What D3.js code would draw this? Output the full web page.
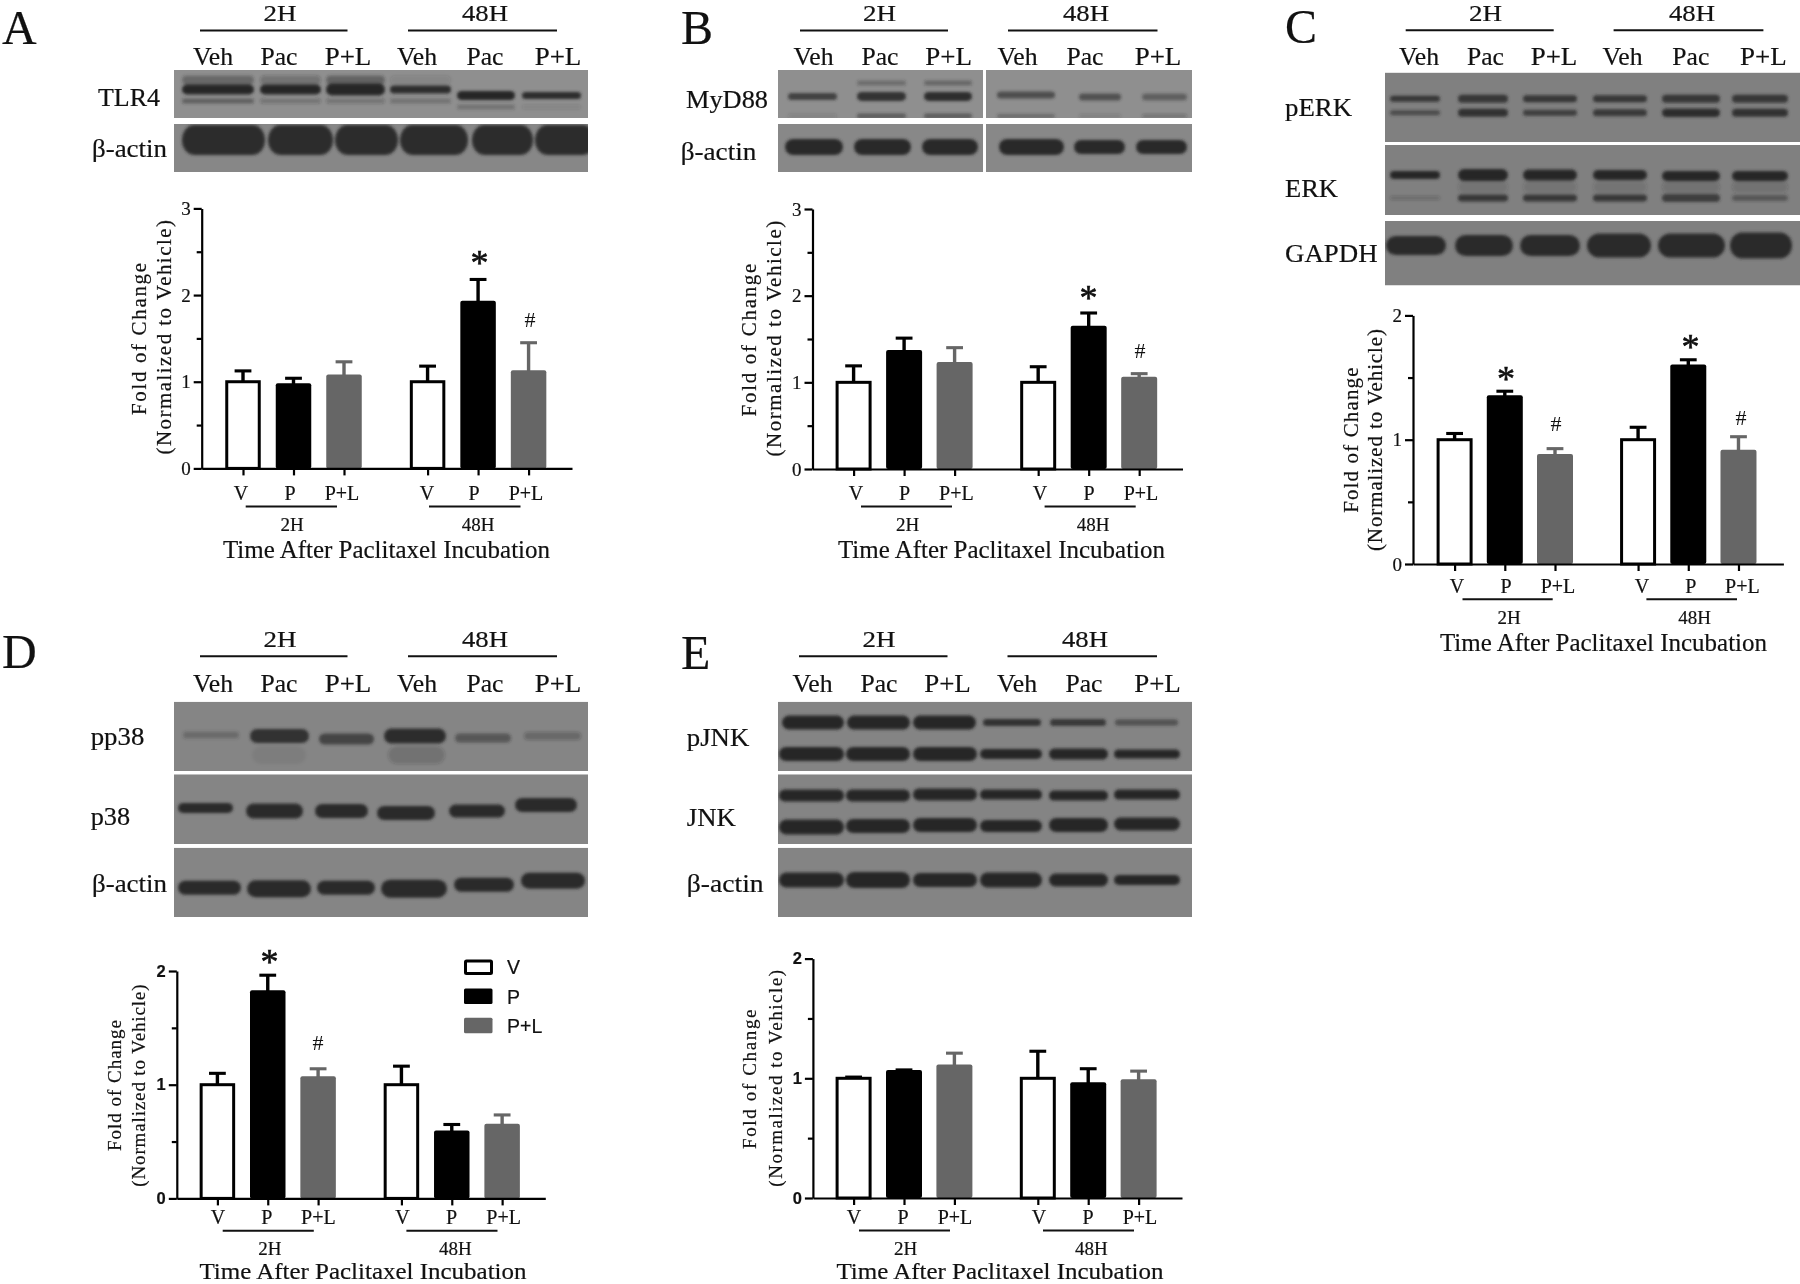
<!DOCTYPE html>
<html><head><meta charset="utf-8">
<script src="https://cdn.jsdelivr.net/npm/d3@7"></script>
<style>html,body{margin:0;background:#fff}svg{display:block;filter:blur(.4px)}text{font-family:"Liberation Serif",serif;fill:#111;stroke:#111;stroke-width:.2px}</style>
</head><body><svg id="c" width="1800" height="1284"></svg>
<script>
// ---------- data ----------
const categories = ["V","P","P+L"];
const timepoints = ["2H","48H"];
const laneLabels = ["Veh","Pac","P+L"];
const valuesA = [1,0.97,1.07,1,1.92,1.12];
const errTopA = [1.125,1.04,1.23,1.18,2.18,1.45];
const valuesB = [1,1.36,1.22,1,1.64,1.05];
const errTopB = [1.19,1.51,1.40,1.18,1.80,1.10];
const valuesC = [1,1.347,0.876,1,1.595,0.91];
const errTopC = [1.05,1.39,0.928,1.10,1.643,1.024];
const valuesD = [1,1.82,1.064,1,0.587,0.646];
const errTopD = [1.10,1.963,1.14,1.163,0.65,0.734];
const valuesE = [1,1.06,1.105,1,0.958,0.983];
const errTopE = [1.01,1.07,1.21,1.226,1.08,1.06];
const tickLabels3 = [0,1,2,3];
const tickLabels2 = [0,1,2];
const minor3 = [0.5,1.5,2.5];
const minor2 = [0.5,1.5];
const slots = [0,1,2,3.655,4.655,5.655];

// ---------- layout ----------
const svg = d3.select("#c");
svg.append("defs").append("filter").attr("id","bl").attr("x","-10%").attr("y","-60%").attr("width","120%").attr("height","220%")
  .append("feGaussianBlur").attr("stdDeviation",1.5);
const SERIF='"Liberation Serif",serif', SANS='"Liberation Sans",sans-serif';
function T(x,y,s,o={}){
  const t=svg.append("text").attr("x",x).attr("y",y).text(s)
    .attr("font-size",o.size||25).attr("text-anchor",o.anchor||"middle");
  if(o.font) t.style("font-family",o.font);
  if(o.bold) t.attr("font-weight","bold");
  if(o.len) t.attr("textLength",o.len).attr("lengthAdjust",o.adj||"spacingAndGlyphs");
  if(o.rot) t.attr("transform",`rotate(-90 ${x} ${y})`);
  return t;
}
function H(x0,x1,y,w=2){svg.append("line").attr("x1",x0).attr("x2",x1).attr("y1",y).attr("y2",y).attr("stroke","#111").attr("stroke-width",w);}
let clipId=0;
function row(x0,x1,y0,y1,bg,bands){
  const id="r"+(clipId++);
  svg.select("defs").append("clipPath").attr("id",id).append("rect").attr("x",x0).attr("y",y0).attr("width",x1-x0).attr("height",y1-y0);
  const g=svg.append("g").attr("clip-path",`url(#${id})`);
  g.append("rect").attr("x",x0).attr("y",y0).attr("width",x1-x0).attr("height",y1-y0).attr("fill",bg);
  const gb=g.append("g").attr("filter","url(#bl)");
  bands.forEach(b=>{
    b.lanes.forEach((l,i)=>{
      const h=Array.isArray(b.h)?b.h[i]:b.h, a=Array.isArray(b.a)?b.a[i]:b.a, dy=b.dy?b.dy[i]:0;
      if(!a) return;
      gb.append("rect").attr("x",l[0]).attr("width",l[1]-l[0]).attr("y",b.y+dy-h/2).attr("height",h)
        .attr("rx",Math.min(h/2,12)).attr("ry",h/2).attr("fill","#282828").attr("opacity",a);
    });
  });
}
function header(L){
  timepoints.forEach((t,i)=>{ T(L.hc[i],L.hy,t,{size:23,len:i?46:33}); H(L.hl[i][0],L.hl[i][1],L.hly); });
  L.lc.forEach((x,i)=>T(x,L.ly,laneLabels[i%3],{size:26,len:[40,37,46.7][i%3]}));
}
function chart(L,vals,tops,ticks,minor){
  const step=L.step, first=L.first;
  const x=d3.scaleLinear().domain([(L.ax-first)/step,(L.xe-first)/step]).range([L.ax,L.xe]);
  const y=d3.scaleLinear().domain([0,ticks[ticks.length-1]]).range([L.y0,L.yt]);
  const g=svg.append("g");
  const err=g.append("g");
  slots.forEach((s,i)=>{
    const c=i%3==2?"#666":"#000", cx=x(s);
    err.append("line").attr("x1",cx).attr("x2",cx).attr("y1",y(vals[i])).attr("y2",y(tops[i])).attr("stroke",c).attr("stroke-width",3.4);
    err.append("line").attr("x1",cx-8.4).attr("x2",cx+8.4).attr("y1",y(tops[i])).attr("y2",y(tops[i])).attr("stroke",c).attr("stroke-width",3.1);
  });
  slots.forEach((s,i)=>{
    const k=i%3, cx=x(s), w=L.bw;
    if(k==0) g.append("rect").attr("x",cx-w/2+1.5).attr("width",w-3).attr("y",y(vals[i])).attr("height",y(0)-y(vals[i])).attr("fill","#fff").attr("stroke","#000").attr("stroke-width",3);
    else g.append("rect").attr("x",cx-w/2).attr("width",w).attr("y",y(vals[i])-1.2).attr("height",y(0)-y(vals[i])+1.2).attr("rx",2).attr("fill",k==1?"#000":"#666");
  });
  const st=s=>s.selectAll("line,path").attr("stroke","#000").attr("stroke-width",2.2);
  svg.append("g").attr("transform",`translate(0,${L.y0})`).call(d3.axisBottom(x).tickValues(slots).tickFormat("").tickSize(7).tickSizeOuter(0)).call(st);
  const axL=svg.append("g").attr("transform",`translate(${L.ax},0)`)
    .call(d3.axisLeft(y).tickValues(ticks).tickFormat(d3.format("d")).tickSize(8).tickSizeOuter(0).tickPadding(3)).call(st);
  axL.selectAll("text").attr("font-size",L.bold?16.5:19).style("fill","#111");
  if(L.bold) axL.selectAll("text").style("font-family",SANS).attr("font-weight","bold");
  else axL.selectAll("text").style("font-family",SERIF);
  svg.append("g").attr("transform",`translate(${L.ax},0)`).call(d3.axisLeft(y).tickValues(minor).tickFormat("").tickSize(5).tickSizeOuter(0)).call(st).select("path").remove();
  L.cat.forEach((cx,i)=>T(cx,L.cy,categories[i%3],{size:20}));
  L.under.forEach((u,i)=>{ H(u[0],u[1],L.cy+6.5); T(L.tc[i],L.cy+31,timepoints[i],{size:19}); });
  T(L.titleX,L.titleY,"Time After Paclitaxel Incubation",{size:L.ts||24.8,len:327});
  T(L.f[0],(L.f[1]+L.f[2])/2,"Fold of Change",{size:L.fs||21,rot:true,len:L.f[2]-L.f[1],adj:"spacing"});
  T(L.n[0],(L.n[1]+L.n[2])/2,"(Normalized to Vehicle)",{size:L.fs||21,rot:true,len:L.n[2]-L.n[1],adj:"spacing"});
  (L.stars||[]).forEach(s=>T(s[0],s[1]+17.5,"*",{size:36}).style("stroke-width","0.6px"));
  (L.hash||[]).forEach(s=>T(s[0],s[1]+7.5,"#",{size:22}).style("stroke-width","0"));
}
const letter=(x,y,s)=>T(x,y,s,{size:48,anchor:"start"});

// ---------- Panel A ----------
letter(2,43.5,"A");
header({hc:[280,485],hy:20.7,hl:[[200,347.5],[408,557]],hly:30.5,lc:[213,279,348,417,485,558],ly:65});
T(160,105.5,"TLR4",{anchor:"end",len:62}); T(167,157,"β-actin",{anchor:"end",len:75});
const lanesA1=[[182,254],[260,321],[326,385],[390,451],[457,515],[522,581]];
row(174,588,70,118,"#8f8f8f",[
 {y:80,h:9,a:[.38,.25,.42,.1,0,0],lanes:lanesA1},
 {y:89.5,h:[10,10,12,8,9,7],a:[1,1,1,.95,1,.95],dy:[0,0,0,0,6,6],lanes:lanesA1},
 {y:101,h:5,a:[.45,.25,.25,.3,.3,.1],dy:[0,0,0,0,6,6],lanes:lanesA1}]);
row(174,588,124,172,"#878787",[{y:140,h:30,a:.95,lanes:[[182,265],[268,333],[335,398],[400,468],[472,533],[535,595]]}]);
chart({first:243,step:50.5,ax:201.7,xe:572,y0:468.4,yt:208.4,bw:35.5,
 cat:[241,290,342,427,474,526],cy:500,under:[[245.7,337],[429,520.5]],tc:[292,478],titleX:386.5,titleY:558,
 f:[145.5,263,415],n:[171,220,454.5],stars:[[479.5,257]],hash:[[530,319.5]]},valuesA,errTopA,tickLabels3,minor3);

// ---------- Panel B ----------
letter(681,43.5,"B");
header({hc:[879.6,1086],hy:20.7,hl:[[800,948],[1008,1157.5]],hly:30.5,lc:[813.6,880,948.6,1017.5,1085,1158],ly:65});
T(768,108,"MyD88",{anchor:"end",len:82}); T(756.4,160,"β-actin",{anchor:"end",len:75.7});
const lanesB1=[[788,837],[857,906],[924,972],[997,1055],[1079,1121],[1142,1187]];
const lanesB2=[[785,843],[854,911],[922,978],[999,1064],[1074,1125],[1136,1187]];
row(778,983,70,118,"#8f8f8f",[
 {y:83,h:5,a:[0,.35,.4],lanes:lanesB1.slice(0,3)},
 {y:96.4,h:[7,9,9],a:[.75,.9,.95],lanes:lanesB1.slice(0,3)},
 {y:116,h:5,a:[.12,.5,.5],lanes:lanesB1.slice(0,3)}]);
row(986,1192,70,118,"#8f8f8f",[
 {y:95,h:[7,7,7],a:[.65,.6,.45],dy:[0,2,2],lanes:lanesB1.slice(3)},
 {y:116,h:4,a:[.35,.15,.25],lanes:lanesB1.slice(3)}]);
row(778,983,124,172,"#888888",[{y:147,h:16,a:.98,lanes:lanesB2.slice(0,3)}]);
row(986,1192,124,172,"#888888",[{y:147,h:[16,14,14],a:.98,lanes:lanesB2.slice(3)}]);
chart({first:853.6,step:50.5,ax:812.5,xe:1182.5,y0:469,yt:209,bw:36,
 cat:[856,904.6,956.4,1040,1089,1141],cy:500,under:[[861,952],[1044.6,1135.7]],tc:[907.5,1093],titleX:1001.5,titleY:558,
 f:[756.4,263.6,416.4],n:[781.4,220.7,456.4],stars:[[1088.6,292]],hash:[[1140,350]]},valuesB,errTopB,tickLabels3,minor3);

// ---------- Panel C ----------
letter(1285,43,"C");
header({hc:[1485.5,1692],hy:20.7,hl:[[1405.7,1553.7],[1613.6,1763.4]],hly:30.3,lc:[1419,1485.5,1554,1622.6,1690.8,1763.4],ly:65});
T(1285,116,"pERK",{anchor:"start",len:67}); T(1285,196.6,"ERK",{anchor:"start",len:53}); T(1285,261.5,"GAPDH",{anchor:"start",len:92.6});
const lanesC1=[[1390,1440],[1458,1508],[1523,1577],[1593,1647],[1662,1720],[1732,1788]];
const lanesC2=[[1386,1446],[1455,1513],[1520,1580],[1587,1651],[1658,1725],[1730,1792]];
row(1385,1800,72.6,142,"#808080",[
 {y:98.7,h:[6,8,7,7,8,8],a:.85,lanes:lanesC1},
 {y:112.8,h:[5,8,6,7,8.5,8],a:[.6,.9,.75,.8,.95,.9],lanes:lanesC1}]);
row(1385,1800,145,215,"#808080",[
 {y:187,h:12,a:[0,.14,.14,.14,.16,.16],lanes:lanesC1},
 {y:175,h:[8,12,11,10,10,10],a:1,dy:[0,0,0,0,1,1],lanes:lanesC1},
 {y:198,h:[4,7,7,7,8,6],a:[.22,.85,.85,.85,.75,.45],lanes:lanesC1}]);
row(1385,1800,221,285.5,"#808080",[{y:245.5,h:[19,21,21,24,24,26],a:.97,lanes:lanesC2}]);
chart({first:1454.6,step:50.2,ax:1413,xe:1783.4,y0:564,yt:315.4,bw:36,
 cat:[1457,1506,1558,1642,1690.8,1742.4],cy:592.7,under:[[1462.5,1552.7],[1646.4,1737]],tc:[1509,1694.6],titleX:1603.5,titleY:650.8,
 f:[1358,367.5,512.8],n:[1382,329,551],stars:[[1506,373],[1690.4,341]],hash:[[1556,423],[1741,417.5]]},valuesC,errTopC,tickLabels2,minor2);

// ---------- Panel D ----------
letter(2,667.5,"D");
header({hc:[280,485],hy:647.2,hl:[[200,347.5],[408,557]],hly:656.3,lc:[213,279,348,417,485,558],ly:691.5});
T(90.7,744.7,"pp38",{anchor:"start",len:53.6}); T(90.7,825,"p38",{anchor:"start",len:39.4}); T(92,892,"β-actin",{anchor:"start",len:75});
row(174,588,701.7,771,"#858585",[
 {y:737,h:[7,14,11,15,9,8],a:[.3,.9,.7,.95,.5,.28],dy:[-2,-1,2,-1,1,-1],lanes:[[183,239],[250,309],[319,374],[384,446],[455,511],[524,581]]},
 {y:755,h:18,a:[.2,.06],lanes:[[388,445],[252,306]]}]);
row(174,588,774.3,844,"#858585",[{y:810,h:[10,15,14,14,13,14],a:.97,dy:[-2,1,1,3,1,-5],lanes:[[178,233],[246,303],[315,368],[377,435],[449,505],[515,577]]}]);
row(174,588,847.7,917,"#858585",[{y:887.7,h:[14,17,14,18,14,16],a:.97,dy:[0,1,0,1,-3,-7],lanes:[[178,241],[247,311],[317,375],[381,447],[454,514],[521,585]]}]);
chart({first:217.4,step:50.35,ax:176.8,xe:545.3,y0:1198.4,yt:971,bw:35.5,bold:true,
 cat:[218,266.7,318.4,402.6,451.6,503.6],cy:1224.2,under:[[222.7,313.8],[406.4,497.5]],tc:[269.8,455.4],titleX:363,titleY:1278.9,ts:23.5,
 f:[120.5,1020,1151],n:[145.4,984.5,1186.7],fs:19,stars:[[269.4,956.5]],hash:[[318,1042.8]]},valuesD,errTopD,tickLabels2,minor2);
categories.forEach((c,i)=>{
  const yb=[959.4,988.6,1017.8][i];
  if(i==0) svg.append("rect").attr("x",465.5).attr("y",yb+1.5).attr("width",26).attr("height",12.5).attr("rx",1).attr("fill","#fff").attr("stroke","#000").attr("stroke-width",3);
  else svg.append("rect").attr("x",464).attr("y",yb).attr("width",28.5).attr("height",15.5).attr("rx",1.5).attr("fill",i==1?"#000":"#666");
  T(507,yb+15,c,{anchor:"start",font:SANS,size:19.5});
});

// ---------- Panel E ----------
letter(681,668.8,"E");
header({hc:[879,1085],hy:647.2,hl:[[799,947.5],[1007.5,1157]],hly:656.3,lc:[812.5,879,947.5,1017,1084,1157.5],ly:691.5});
T(686.8,746,"pJNK",{anchor:"start",len:62.5}); T(686.8,826,"JNK",{anchor:"start",len:49}); T(686.8,892,"β-actin",{anchor:"start",len:76.8});
const lanesE1=[[782,844],[847,910],[913,976],[983,1041],[1050,1106],[1115,1178]];
const lanesE2=[[779,844],[846,910],[913,977],[980,1042],[1049,1108],[1114,1180]];
row(778,1192,701.7,771,"#848484",[
 {y:722.6,h:[14,14,14,7,7,6],a:[1,1,1,.9,.8,.55],lanes:lanesE1},
 {y:754,h:[14,14,14,10,11,9],a:1,lanes:lanesE2}]);
row(778,1192,774.3,844,"#848484",[
 {y:795.6,h:[12,12,12,10,10,10],a:1,dy:[0,0,-1,-1,0,-1],lanes:lanesE2},
 {y:826,h:[15,14,14,12,14,13],a:1,dy:[1,0,-1,0,-1,-2],lanes:lanesE2}]);
row(778,1192,847.7,917,"#848484",[{y:880,h:[15,16,14,15,13,10],a:1,lanes:lanesE2}]);
chart({first:853.6,step:50.4,ax:812.9,xe:1182,y0:1198,yt:958.6,bw:36,bold:true,
 cat:[854,903,955,1039,1088,1140],cy:1224,under:[[859,950],[1043,1134]],tc:[905.7,1091.4],titleX:1000,titleY:1278.9,ts:23.5,
 f:[756.4,1009.5,1149],n:[782.5,970,1186.7],fs:19},valuesE,errTopE,tickLabels2,minor2);
</script></body></html>
